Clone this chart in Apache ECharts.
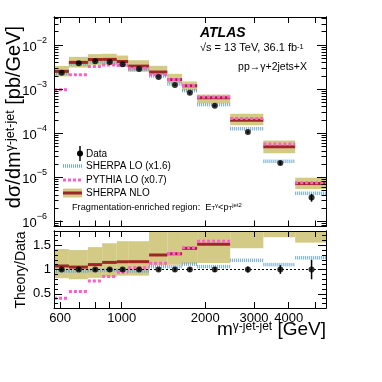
<!DOCTYPE html>
<html>
<head>
<meta charset="utf-8">
<script src="https://cdn.jsdelivr.net/npm/echarts@6/dist/echarts.min.js"></script>
<style>
html, body { margin: 0; padding: 0; background: #fff; }
#chart { width: 382px; height: 382px; }
</style>
</head>
<body>
<div id="chart"></div>
<script>
// m(gamma-jet-jet) bin edges [GeV]
const binEdges = [570, 645, 755, 850, 960, 1055, 1255, 1460, 1650, 1870, 2460, 3240, 4220, 5450];
// measured cross section [pb/GeV] and relative uncertainty
const dataXsec = [2.36e-3, 3.85e-3, 4.27e-3, 4.12e-3, 3.65e-3, 2.86e-3, 1.88e-3, 1.24e-3, 8.3e-4, 4.2e-4, 1.06e-4, 2.1e-5, 3.5e-6];
const dataRelErr = [0.03, 0.03, 0.03, 0.03, 0.03, 0.03, 0.03, 0.04, 0.04, 0.05, 0.06, 0.09, 0.2];
// predictions [pb/GeV]
const sherpaNLO = [2.53e-3, 4.04e-3, 4.70e-3, 4.72e-3, 4.23e-3, 3.32e-3, 2.44e-3, 1.64e-3, 1.19e-3, 6.38e-4, 1.98e-4, 4.91e-5, 7.21e-6];
const nloLow = [1.94e-3, 3.08e-3, 3.54e-3, 3.50e-3, 3.19e-3, 2.50e-3, 2.05e-3, 1.36e-3, 9.30e-4, 4.75e-4, 1.52e-4, 3.49e-5, 5.43e-6];
const nloHigh = [3.35e-3, 5.39e-3, 6.23e-3, 6.34e-3, 5.77e-3, 4.52e-3, 3.37e-3, 2.22e-3, 1.49e-3, 7.52e-4, 2.76e-4, 6.83e-5, 9.8e-6];
const sherpaLO = [2.29e-3, 3.73e-3, 4.18e-3, 4.06e-3, 3.60e-3, 2.77e-3, 1.99e-3, 1.31e-3, 9.21e-4, 4.45e-4, 1.26e-4, 2.31e-5, 4.34e-6];
const pythiaLO = [9.68e-4, 2.12e-3, 3.27e-3, 3.52e-3, 3.45e-3, 2.97e-3, 2.12e-3, 1.65e-3, 1.20e-3, 6.64e-4, 2.16e-4, 5.67e-5, 7.49e-6];

// axis ticks / labels
const xTicks = [600, 700, 800, 900, 1000, 2000, 3000, 4000, 5000];
const xLabels = [600, 1000, 2000, 3000, 4000];
const yDecades = [1e-6, 1e-5, 1e-4, 1e-3, 1e-2];
const yMinorSteps = [1, 2, 3, 4, 5, 6, 7, 8, 9];
const ratioLabels = [0.5, 1, 1.5];
const ratioMinor = [0.3, 0.4, 0.6, 0.7, 0.8, 0.9, 1.1, 1.2, 1.3, 1.4, 1.6, 1.7];

const X_MIN = 570, X_MAX = 5450;
const Y_MIN = 7.66e-7, Y_MAX = 0.0432;
const R_MIN = 0.21, R_MAX = 1.79;

const FONT = '"Liberation Sans", Arial, Helvetica, sans-serif';
const C_BAND = '#d3ca86';
const C_NLO = '#9e2626';
const C_LO = '#72a9d0';
const C_PY = '#fb5fcf';

const yMinor = [];
[1e-7, 1e-6, 1e-5, 1e-4, 1e-3, 1e-2].forEach(d => yMinorSteps.forEach(s => {
  const v = d * s;
  if (v >= Y_MIN && v <= Y_MAX) yMinor.push(v);
}));

const binRows = vals => vals.map((v, i) => [binEdges[i], binEdges[i + 1], v]);
const ratioRows = vals => vals.map((v, i) => [binEdges[i], binEdges[i + 1], v / dataXsec[i]]);
const centers = dataXsec.map((v, i) => (binEdges[i] + binEdges[i + 1]) / 2);

function segItem(style) {
  return function (params, api) {
    const p0 = api.coord([api.value(0), api.value(2)]);
    const p1 = api.coord([api.value(1), api.value(2)]);
    const cs = params.coordSys;
    if (p0[1] < cs.y - 1 || p0[1] > cs.y + cs.height + 1) return null;
    return {
      type: 'line',
      shape: { x1: p0[0], y1: p0[1], x2: p1[0], y2: p1[1] },
      style: Object.assign({ fill: null }, style)
    };
  };
}

function bandItem(params, api) {
  const a = api.coord([api.value(0), api.value(3)]);
  const b = api.coord([api.value(1), api.value(2)]);
  const cs = params.coordSys;
  const shape = echarts.graphic.clipRectByRect(
    { x: a[0], y: a[1], width: b[0] - a[0], height: b[1] - a[1] },
    { x: cs.x, y: cs.y, width: cs.width, height: cs.height }
  );
  return shape && { type: 'rect', shape: shape, style: { fill: C_BAND } };
}

function errItem(params, api) {
  const a = api.coord([api.value(0), api.value(1)]);
  const b = api.coord([api.value(0), api.value(2)]);
  return { type: 'line', shape: { x1: a[0], y1: a[1], x2: b[0], y2: b[1] }, style: { stroke: '#000', lineWidth: 1.5 } };
}

function xAx(grid, pos, labels) {
  return {
    type: 'log', logBase: 10, gridIndex: grid, position: pos, min: X_MIN, max: X_MAX, z: 10,
    axisLine: { show: true, onZero: false, lineStyle: { color: '#000', width: 1 } },
    axisTick: { show: true, inside: true, length: 6, customValues: xTicks, lineStyle: { color: '#000' } },
    axisLabel: labels ? {
      show: true, customValues: xLabels, fontSize: 13, color: '#000', margin: 4, fontFamily: FONT,
      formatter: v => String(Math.round(v))
    } : { show: false },
    splitLine: { show: false }
  };
}

const expLabel = {
  show: true, customValues: yDecades, margin: 7, color: '#000',
  formatter: v => '{b|10}{s|' + String(Math.round(Math.log10(v))).replace('-', '\u2212') + '}',
  rich: {
    b: { fontSize: 13, fontFamily: FONT, color: '#000', padding: [5, 0, 0, 0] },
    s: { fontSize: 9, fontFamily: FONT, color: '#000', verticalAlign: 'top' }
  }
};

function yLogAx(pos, major) {
  return {
    type: 'log', logBase: 10, gridIndex: 0, position: pos, min: Y_MIN, max: Y_MAX, z: 10,
    axisLine: { show: true, lineStyle: { color: '#000', width: 1 } },
    axisTick: { show: true, inside: true, length: major ? 9 : 4.5, customValues: major ? yDecades : yMinor, lineStyle: { color: '#000' } },
    axisLabel: (major && pos === 'left') ? expLabel : { show: false },
    splitLine: { show: false }
  };
}

function yRatioAx(pos, major) {
  return {
    type: 'value', gridIndex: 1, position: pos, min: R_MIN, max: R_MAX, z: 10,
    axisLine: { show: true, onZero: false, lineStyle: { color: '#000', width: 1 } },
    axisTick: { show: true, inside: true, length: major ? 8 : 4, customValues: major ? ratioLabels : ratioMinor, lineStyle: { color: '#000' } },
    axisLabel: (major && pos === 'left') ? { show: true, customValues: ratioLabels, fontSize: 13, color: '#000', margin: 3, fontFamily: FONT } : { show: false },
    splitLine: { show: false }
  };
}

function topSeries(name, rows, style, z) {
  return { name, type: 'custom', xAxisIndex: 0, yAxisIndex: 0, z, renderItem: segItem(style), encode: { x: [0, 1], y: [2] }, data: rows };
}
function ratioSeries(name, rows, style, z) {
  return { name, type: 'custom', xAxisIndex: 2, yAxisIndex: 4, z, renderItem: segItem(style), encode: { x: [0, 1], y: [2] }, data: rows };
}

const loStyle = { stroke: C_LO, lineWidth: 3.5, lineDash: [1, 1] };
const pyStyle = { stroke: C_PY, lineWidth: 3, lineDash: [3, 2] };
const nloStyle = { stroke: C_NLO, lineWidth: 3 };

const bandTop = nloLow.map((v, i) => [binEdges[i], binEdges[i + 1], v, nloHigh[i]]);
const bandRatio = nloLow.map((v, i) => [binEdges[i], binEdges[i + 1], v / dataXsec[i], nloHigh[i] / dataXsec[i]]);

function txt(x, y, text, style, extra) {
  return Object.assign({
    type: 'text', x, y, silent: true, z: 100,
    style: Object.assign({ text, fill: '#000', fontFamily: FONT, fontSize: 10, align: 'left', verticalAlign: 'middle', textAlign: 'left', textVerticalAlign: 'middle' }, style)
  }, extra || {});
}

const graphic = [
  txt(200, 33, 'ATLAS', { fontSize: 14, fontWeight: 'bold', fontStyle: 'italic' }),
  txt(200, 48, '{n|\u221As = 13 TeV, 36.1 fb}{s|-1}', {
    rich: { n: { fontSize: 11, fontFamily: FONT, color: '#000' }, s: { fontSize: 7.5, fontFamily: FONT, color: '#000', verticalAlign: 'top' } }
  }),
  txt(307, 67, 'pp\u2192\u03b3+2jets+X', { fontSize: 10.5, align: 'right', textAlign: 'right' }),
  // legend
  { type: 'line', silent: true, z: 100, shape: { x1: 80, y1: 146, x2: 80, y2: 161 }, style: { stroke: '#000', lineWidth: 1.5 } },
  { type: 'circle', silent: true, z: 100, shape: { cx: 80, cy: 153.5, r: 3 }, style: { fill: '#000' } },
  txt(86, 154, 'Data', { fontSize: 10 }),
  { type: 'line', silent: true, z: 100, shape: { x1: 63, y1: 166, x2: 82, y2: 166 }, style: loStyle },
  txt(86, 166, 'SHERPA LO (x1.6)', { fontSize: 10 }),
  { type: 'line', silent: true, z: 100, shape: { x1: 63, y1: 180, x2: 82, y2: 180 }, style: pyStyle },
  txt(86, 180, 'PYTHIA LO (x0.7)', { fontSize: 10 }),
  { type: 'rect', silent: true, z: 100, shape: { x: 63, y: 188.5, width: 19, height: 9 }, style: { fill: C_BAND } },
  { type: 'line', silent: true, z: 101, shape: { x1: 63, y1: 193, x2: 82, y2: 193 }, style: nloStyle },
  txt(86, 193, 'SHERPA NLO', { fontSize: 10 }),
  txt(72, 207, '{n|Fragmentation-enriched region:  E}{b|T}{t|\u03b3}{n|<p}{b|T}{t|jet2}', {
    rich: {
      n: { fontSize: 9.2, fontFamily: FONT, color: '#000' },
      b: { fontSize: 6, fontFamily: FONT, color: '#000', verticalAlign: 'bottom' },
      t: { fontSize: 6, fontFamily: FONT, color: '#000', verticalAlign: 'top' }
    }
  }),
  // axis titles
  txt(14, 117, '{m|d\u03c3/dm}{s|\u03b3-jet-jet}{m| [pb/GeV]}', {
    align: 'center', textAlign: 'center',
    rich: { m: { fontSize: 20, fontFamily: FONT, color: '#000' }, s: { fontSize: 12.5, fontFamily: FONT, color: '#000', verticalAlign: 'top' } }
  }, { rotation: Math.PI / 2 }),
  txt(21, 270, 'Theory/Data', { fontSize: 14, align: 'center', textAlign: 'center' }, { rotation: Math.PI / 2 }),
  txt(326, 330, '{m|m}{s|\u03b3-jet-jet}{m| [GeV]}', {
    align: 'right', textAlign: 'right',
    rich: { m: { fontSize: 19, fontFamily: FONT, color: '#000' }, s: { fontSize: 12, fontFamily: FONT, color: '#000', verticalAlign: 'top' } }
  })
];

const option = {
  animation: false,
  backgroundColor: '#fff',
  grid: [
    { left: 54, right: 56, top: 17, height: 209.5, outerBoundsMode: 'none' },
    { left: 54, right: 56, top: 231, height: 77, outerBoundsMode: 'none' }
  ],
  xAxis: [xAx(0, 'bottom', false), xAx(0, 'top', false), xAx(1, 'bottom', true), xAx(1, 'top', false)],
  yAxis: [
    yLogAx('left', false), yLogAx('left', true), yLogAx('right', false), yLogAx('right', true),
    yRatioAx('left', false), yRatioAx('left', true), yRatioAx('right', false), yRatioAx('right', true)
  ],
  graphic: graphic,
  series: [
    { name: 'NLO band', type: 'custom', xAxisIndex: 0, yAxisIndex: 0, z: 1, renderItem: bandItem, encode: { x: [0, 1], y: [2, 3] }, data: bandTop },
    topSeries('SHERPA LO', binRows(sherpaLO), loStyle, 2),
    topSeries('SHERPA NLO', binRows(sherpaNLO), nloStyle, 3),
    topSeries('PYTHIA LO', binRows(pythiaLO), pyStyle, 4),
    {
      name: 'Data err', type: 'custom', xAxisIndex: 0, yAxisIndex: 0, z: 5, renderItem: errItem, encode: { x: 0, y: [1, 2] },
      data: dataXsec.map((v, i) => [centers[i], v * (1 - dataRelErr[i]), v * (1 + dataRelErr[i])])
    },
    {
      name: 'Data', type: 'scatter', xAxisIndex: 0, yAxisIndex: 0, z: 6, symbol: 'circle', symbolSize: 6,
      itemStyle: { color: '#000' }, data: dataXsec.map((v, i) => [centers[i], v])
    },

    { name: 'NLO band ratio', type: 'custom', xAxisIndex: 2, yAxisIndex: 4, z: 1, renderItem: bandItem, encode: { x: [0, 1], y: [2, 3] }, data: bandRatio },
    ratioSeries('SHERPA LO ratio', ratioRows(sherpaLO), loStyle, 2),
    ratioSeries('SHERPA NLO ratio', ratioRows(sherpaNLO), nloStyle, 3),
    ratioSeries('PYTHIA LO ratio', ratioRows(pythiaLO), pyStyle, 4),
    {
      name: 'Data ratio err', type: 'custom', xAxisIndex: 2, yAxisIndex: 4, z: 5, renderItem: errItem, encode: { x: 0, y: [1, 2] },
      data: dataRelErr.map((e, i) => [centers[i], 1 - e, 1 + e])
    },
    {
      name: 'Data ratio', type: 'scatter', xAxisIndex: 2, yAxisIndex: 4, z: 6, symbol: 'circle', symbolSize: 6,
      itemStyle: { color: '#000' }, data: centers.map(c => [c, 1]),
      markLine: {
        silent: true, symbol: 'none', label: { show: false }, animation: false,
        lineStyle: { type: [2, 2], color: '#000', width: 1 },
        data: [{ yAxis: 1 }]
      }
    }
  ]
};

const chart = echarts.init(document.getElementById('chart'));
chart.setOption(option);
</script>
</body>
</html>
